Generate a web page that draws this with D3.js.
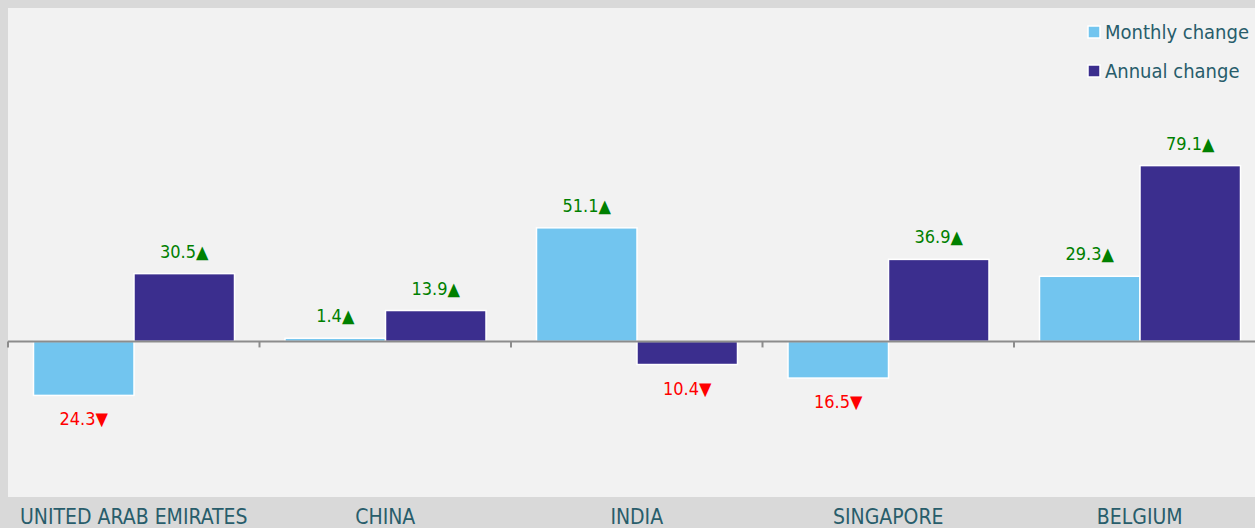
<!DOCTYPE html>
<html>
<head>
<meta charset="utf-8">
<script src="https://cdn.jsdelivr.net/npm/d3@7"></script>
<style>
  body { margin: 0; background: #d9d9d9; }
  svg { display: block; font-family: "DejaVu Sans Condensed", "DejaVu Sans", sans-serif; }
</style>
</head>
<body>
<div id="chart"></div>
<script>
const countries = ["UNITED ARAB EMIRATES", "CHINA", "INDIA", "SINGAPORE", "BELGIUM"];
const seriesNames = ["Monthly change", "Annual change"];
const monthly = [-24.3, 1.4, 51.1, -16.5, 29.3];
const annual = [30.5, 13.9, -10.4, 36.9, 79.1];
const colors = ["#72c5ef", "#3b2e8e"];

const width = 1255, height = 528;

const svg = d3.select("#chart").append("svg")
    .attr("width", width)
    .attr("height", height);

// plot panel
svg.append("rect")
    .attr("x", 8).attr("y", 8)
    .attr("width", width - 8).attr("height", 489)
    .attr("fill", "#f2f2f2");

const x = d3.scaleBand()
    .domain(countries)
    .range([8, 8 + 5 * 251.5]);

const xInner = d3.scaleBand()
    .domain(seriesNames)
    .range([25.5, 226.5]);

const y = d3.scaleLinear()
    .domain([-70, 150])
    .range([497, 8]);

const rows = countries.map((c, i) => ({
    country: c,
    values: [monthly[i], annual[i]]
}));

const groups = svg.selectAll("g.group")
    .data(rows)
    .enter().append("g")
        .attr("class", "group")
        .attr("transform", d => `translate(${x(d.country)},0)`);

groups.selectAll("rect")
    .data(d => d.values.map((v, j) => ({ v: v, s: seriesNames[j], j: j })))
    .enter().append("rect")
        .attr("x", d => xInner(d.s))
        .attr("width", xInner.bandwidth())
        .attr("y", d => y(Math.max(0, d.v)))
        .attr("height", d => Math.abs(y(d.v) - y(0)))
        .attr("fill", d => colors[d.j])
        .attr("stroke", "#ffffff")
        .attr("stroke-width", 1.5);

groups.selectAll("text.val")
    .data(d => d.values.map((v, j) => ({ v: v, s: seriesNames[j] })))
    .enter().append("text")
        .attr("class", "val")
        .attr("x", d => xInner(d.s) + xInner.bandwidth() / 2)
        .attr("y", d => d.v >= 0 ? y(d.v) - 16 : y(d.v) + 30)
        .attr("text-anchor", "middle")
        .attr("font-size", 18)
        .attr("fill", d => d.v >= 0 ? "#008000" : "#ff0000")
        .text(d => Math.abs(d.v).toFixed(1) + (d.v >= 0 ? "\u25B2" : "\u25BC"));

// zero axis line with ticks at category edges
const axis = svg.append("g")
    .attr("transform", `translate(0,${y(0)})`)
    .call(d3.axisBottom(x).tickSize(0).tickFormat(""));
axis.select(".domain").attr("stroke", "#8c8c8c").attr("stroke-width", 2)
    .attr("d", `M${x.range()[0]},0H${x.range()[1]}`);
axis.selectAll(".edge")
    .data(countries)
    .enter().append("line")
        .attr("class", "edge")
        .attr("x1", d => x(d)).attr("x2", d => x(d))
        .attr("y1", 0).attr("y2", 6)
        .attr("stroke", "#8c8c8c")
        .attr("stroke-width", 2);

// category labels
svg.selectAll("text.cat")
    .data(countries)
    .enter().append("text")
        .attr("class", "cat")
        .attr("x", d => x(d) + x.bandwidth() / 2)
        .attr("y", 524)
        .attr("text-anchor", "middle")
        .attr("font-size", 21)
        .attr("fill", "#285d6b")
        .text(d => d);

// legend
const legend = svg.selectAll("g.legend")
    .data(seriesNames)
    .enter().append("g")
        .attr("class", "legend")
        .attr("transform", (d, i) => `translate(1088,${26 + i * 39})`);
legend.append("rect")
    .attr("width", 12).attr("height", 12)
    .attr("fill", (d, i) => colors[i])
    .attr("stroke", "#ffffff")
    .attr("stroke-width", 1.5);
legend.append("text")
    .attr("x", 17)
    .attr("y", 13)
    .attr("font-size", 20)
    .attr("fill", "#285d6b")
    .text(d => d);
</script>
</body>
</html>
